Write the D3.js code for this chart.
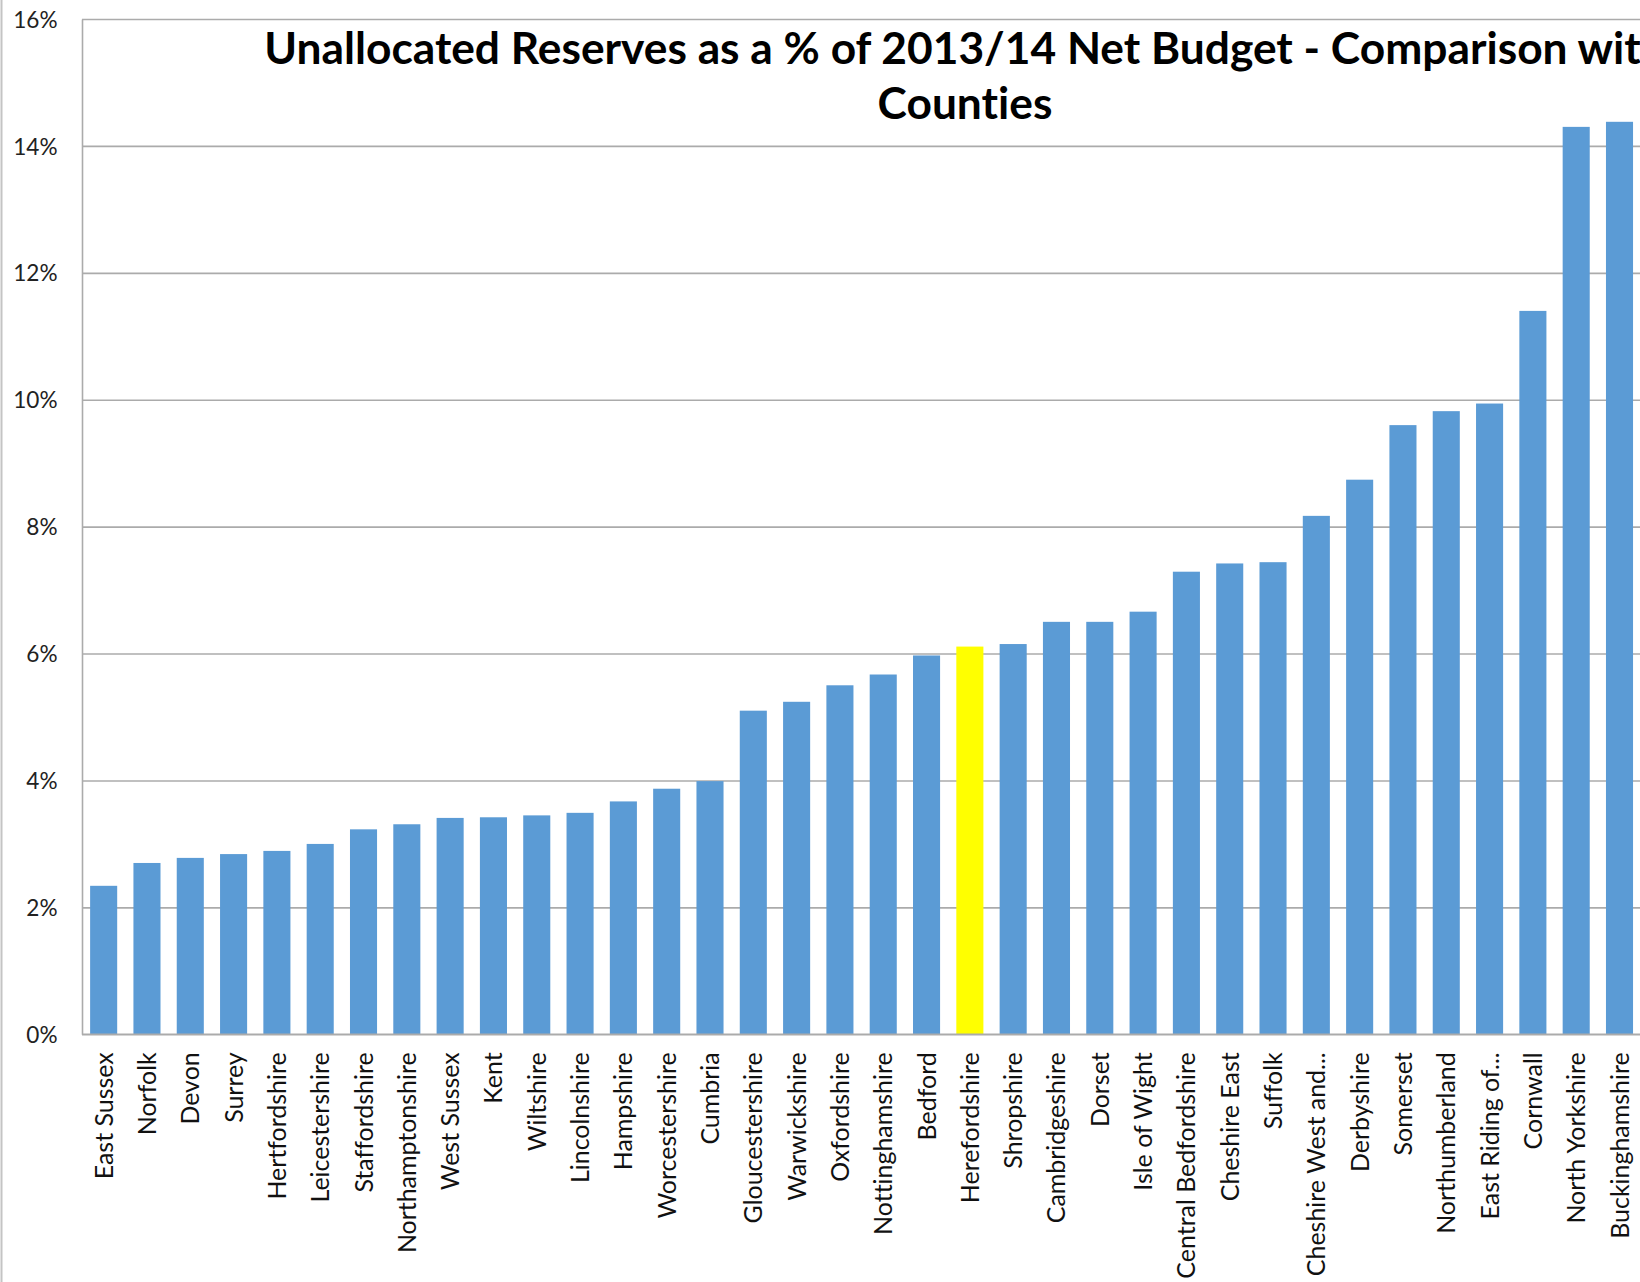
<!DOCTYPE html>
<html>
<head>
<meta charset="utf-8">
<script src="https://cdn.jsdelivr.net/npm/d3@7"></script>
<style>
  html, body { margin: 0; padding: 0; background: #ffffff; }
  svg { display: block; }
  text { font-variant-ligatures: none; font-feature-settings: "liga" 0, "clig" 0; }
</style>
</head>
<body>
<svg id="chart" width="1640" height="1282"></svg>
<script>
// County names, ordered from lowest to highest reserve ratio
const categories = [
  "East Sussex", "Norfolk", "Devon", "Surrey", "Hertfordshire", "Leicestershire",
  "Staffordshire", "Northamptonshire", "West Sussex", "Kent", "Wiltshire",
  "Lincolnshire", "Hampshire", "Worcestershire", "Cumbria", "Gloucestershire",
  "Warwickshire", "Oxfordshire", "Nottinghamshire", "Bedford", "Herefordshire",
  "Shropshire", "Cambridgeshire", "Dorset", "Isle of Wight", "Central Bedfordshire",
  "Cheshire East", "Suffolk", "Cheshire West and...", "Derbyshire", "Somerset",
  "Northumberland", "East Riding of...", "Cornwall", "North Yorkshire", "Buckinghamshire"
];

// Unallocated reserves as a share of the 2013/14 net budget
const values = [
  0.0234, 0.0270, 0.0278, 0.0284, 0.0289, 0.0300,
  0.0323, 0.0331, 0.0341, 0.0342, 0.0345,
  0.0349, 0.0367, 0.0387, 0.0399, 0.0510,
  0.0524, 0.0550, 0.0567, 0.0597, 0.0611,
  0.0615, 0.0650, 0.0650, 0.0666, 0.0729,
  0.0742, 0.0744, 0.0817, 0.0874, 0.0960,
  0.0982, 0.0994, 0.1140, 0.1430, 0.1438
];

const highlighted = ["Herefordshire"];

const yTicks = [0, 0.02, 0.04, 0.06, 0.08, 0.10, 0.12, 0.14, 0.16];

const titleLines = [
  "Unallocated Reserves as a % of 2013/14 Net Budget - Comparison with",
  "Counties"
];

const svg = d3.select("#chart");
const W = 1640, H = 1282;
const plot = { left: 82, top: 19, bottom: 1034.3, step: 43.31 };

const x = d3.scaleBand()
  .domain(categories)
  .range([plot.left, plot.left + categories.length * plot.step])
  .paddingInner(0.375)
  .paddingOuter(0.1875);

const y = d3.scaleLinear()
  .domain([0, 0.16])
  .range([plot.bottom, plot.top]);

const FONT = "Lato, 'Open Sans', sans-serif";
const gridColor = "#ABABAB";

// frame line along the left edge
svg.append("line")
  .attr("x1", 1.5).attr("x2", 1.5)
  .attr("y1", 0).attr("y2", H)
  .attr("stroke", "#C4C4C4").attr("stroke-width", 2);

// horizontal gridlines
svg.append("g")
  .attr("transform", `translate(${plot.left},0)`)
  .call(d3.axisLeft(y).tickValues(yTicks).tickSize(-(W - plot.left)).tickFormat(""))
  .call(g => g.select(".domain").remove())
  .call(g => g.selectAll(".tick line").attr("stroke", gridColor).attr("stroke-width", 1.6));

// bars
svg.append("g")
  .selectAll("rect")
  .data(categories.map((c, i) => ({ name: c, value: values[i] })))
  .join("rect")
  .attr("x", d => x(d.name))
  .attr("width", x.bandwidth())
  .attr("y", d => y(d.value))
  .attr("height", d => y(0) - y(d.value))
  .attr("fill", d => highlighted.includes(d.name) ? "#FFFF00" : "#5B9BD5");

// value axis
const yAxis = svg.append("g")
  .attr("transform", `translate(${plot.left},0)`)
  .call(d3.axisLeft(y).tickValues(yTicks).tickSize(0).tickPadding(24.5).tickFormat(d3.format(".0%")));
yAxis.select(".domain").attr("stroke", gridColor).attr("stroke-width", 1.6);
yAxis.selectAll(".tick text")
  .attr("font-family", FONT)
  .attr("font-size", 22.6)
  .attr("fill", "#222")
  .attr("dy", "0.36em");

// category axis with upright labels
const xAxis = svg.append("g")
  .attr("transform", `translate(0,${plot.bottom})`)
  .call(d3.axisBottom(x).tickSize(0));
xAxis.select(".domain")
  .attr("d", `M${plot.left},0H${W}`)
  .attr("stroke", gridColor).attr("stroke-width", 1.6);

const labels = xAxis.selectAll(".tick text")
  .attr("font-family", FONT)
  .attr("font-size", 25)
  .attr("fill", "#111")
  .attr("text-anchor", "end")
  .attr("transform", "rotate(-90)")
  .attr("x", -18)
  .attr("y", 9)
  .attr("dy", 0);

// size category labels so the longest name spans its usual length
const probe = labels.filter(d => d === "Northamptonshire").node();
const probeLen = probe.getComputedTextLength();
const labelSize = 25 * 201 / probeLen;
labels.attr("font-size", labelSize).attr("y", labelSize * 0.36);

// chart title
const title = svg.append("g")
  .attr("font-family", FONT)
  .attr("font-weight", "bold")
  .attr("fill", "#000")
  .attr("text-anchor", "middle");
const t1 = title.append("text").attr("x", 965).attr("y", 63.5).attr("font-size", 46).text(titleLines[0]);
const fitSize = 46 * 1402 / t1.node().getComputedTextLength();
t1.attr("font-size", fitSize);
title.append("text").attr("x", 965).attr("y", 118.5).attr("font-size", fitSize).text(titleLines[1]);
</script>
</body>
</html>
